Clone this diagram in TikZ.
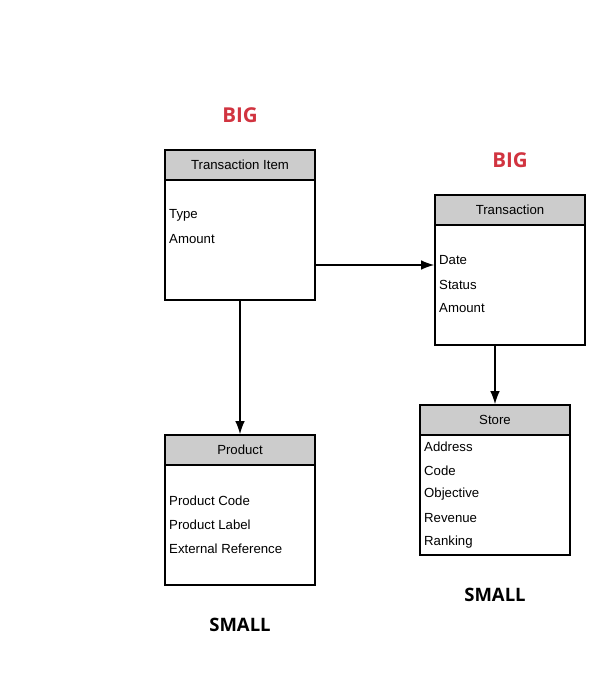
\documentclass[tikz,border=0pt]{standalone}
\usepackage{fontspec}
\setmainfont{Liberation Sans}
\newfontfamily\labelfont{Open Sans}
\usetikzlibrary{arrows.meta}

\definecolor{bigred}{RGB}{209,52,64}
\definecolor{headgray}{RGB}{204,204,204}

\tikzset{
	entity/.style={draw, line width=1.6pt, minimum width=150pt, minimum height=150pt, inner sep=0pt},
	head/.style={draw, line width=1.6pt, fill=headgray, minimum width=150pt, minimum height=30pt, inner sep=0pt, font=\fontsize{13.2}{15}\selectfont},
	field/.style={anchor=west, inner sep=0pt, yshift=-1.5pt, font=\fontsize{13.2}{15}\selectfont},
	size/.style={font=\labelfont\bfseries\fontsize{18.5}{20}\selectfont},
	bigsize/.style={text=bigred, font=\labelfont\bfseries\fontsize{20.5}{22}\selectfont},
	link/.style={line width=1.3pt, -{Latex[length=13pt,width=9.5pt]}}
}

\begin{document}
\begin{tikzpicture}[x=1pt,y=-1pt]
	\useasboundingbox (0,0) rectangle (615,675);
	\node[entity] (item) at (240,225) {};
	\node[entity] (trans) at (510,270) {};
	\node[entity] (prod) at (240,510) {};
	\node[entity] (store) at (495,480) {};
	\node[head, anchor=north] (itemhead) at (item.north) {Transaction Item};
	\node[head, anchor=north] (transhead) at (trans.north) {Transaction};
	\node[head, anchor=north] (prodhead) at (prod.north) {Product};
	\node[head, anchor=north] (storehead) at (store.north) {Store};
	\node[field] (itemtype) at (169,214) {Type};
	\node[field] (itemamount) at (169,238) {Amount};
	\node[field] (transdate) at (439,259) {Date};
	\node[field] (transstatus) at (439,283) {Status};
	\node[field] (transamount) at (439,307) {Amount};
	\node[field] (prodcode) at (169,499) {Product Code};
	\node[field] (prodlabel) at (169,523) {Product Label};
	\node[field] (prodref) at (169,547) {External Reference};
	\node[field] (storeaddress) at (424,445) {Address};
	\node[field] (storecode) at (424,469) {Code};
	\node[field] (storeobjective) at (424,493) {Objective};
	\node[field] (storerevenue) at (424,517) {Revenue};
	\node[field] (storeranking) at (424,541) {Ranking};
	\node[bigsize] (itembig) at (240,115) {BIG};
	\node[bigsize] (transbig) at (510,160) {BIG};
	\node[size] (prodsmall) at (240,625) {SMALL};
	\node[size] (storesmall) at (495,595) {SMALL};
	\draw[link] (item.east |- 0,265) -- (trans.west |- 0,265);
	\draw[link] (item.south) -- (prodhead.north);
	\draw[link] (trans.south -| 495,0) -- (storehead.north);
\end{tikzpicture}
\end{document}
